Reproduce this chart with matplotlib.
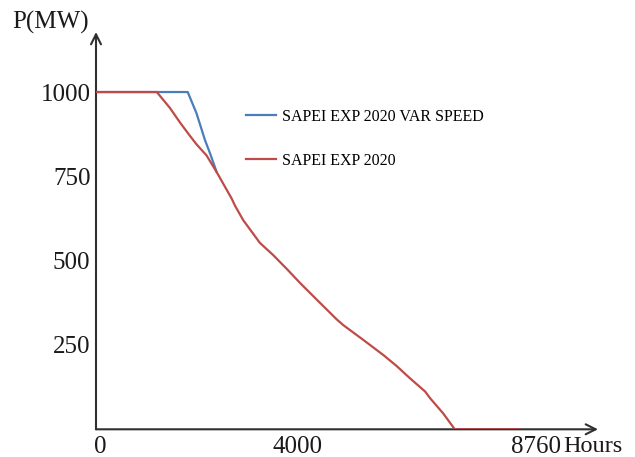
import matplotlib
matplotlib.use("Agg")
import matplotlib.pyplot as plt
from matplotlib.transforms import ScaledTranslation

# ── data ────────────────────────────────────────────────────
hours_exp = [0, 1210, 1470, 1670, 1870, 2000, 2200, 2400, 2700, 2770, 2930,
             3260, 3530, 3800, 4060, 4390, 4790, 4920, 5320, 5720, 5980,
             6250, 6550, 6650, 6910, 7140, 8400]
power_exp = [1000, 1000, 953, 910, 870, 845, 812, 763, 684, 662, 620,
             553, 516, 475, 434, 385, 326, 309, 265, 220, 188,
             151, 112, 92, 47, 0, 0]

hours_var = [0, 1825, 2000, 2170, 2270, 2400]
power_var = [1000, 1000, 937, 857, 818, 763]

x_ticks = [0, 4000, 8760]
y_ticks = [250, 500, 750, 1000]
labels = ["SAPEI EXP 2020 VAR SPEED", "SAPEI EXP 2020"]

BLUE = "#4a7ebb"
RED = "#be4b48"
AXIS = "#303030"

plt.rcParams["font.family"] = ["Liberation Serif", "DejaVu Serif"]

W, H = 635, 457
fig = plt.figure(figsize=(W / 100, H / 100), dpi=100)
x0, y0, x1, y1 = 96, 429.3, 598, 32
ax = fig.add_axes([x0 / W, 1 - y0 / H, (x1 - x0) / W, (y0 - y1) / H])
ax.set_xlim(0, 9990)
ax.set_ylim(0, 1178)

l_var, = ax.plot(hours_var, power_var, color=BLUE, lw=1.6, zorder=3)
l_exp, = ax.plot(hours_exp, power_exp, color=RED, lw=1.6, zorder=4)

for s in ax.spines.values():
    s.set_visible(False)

# axes as arrows
ax.annotate("", xy=(1, 0), xytext=(0, 0), xycoords="axes fraction",
            arrowprops=dict(arrowstyle="->", color=AXIS, lw=1.5,
                            mutation_scale=18, shrinkA=0, shrinkB=0))
ax.annotate("", xy=(0, 1), xytext=(0, 0), xycoords="axes fraction",
            arrowprops=dict(arrowstyle="->", color=AXIS, lw=1.5,
                            mutation_scale=18, shrinkA=0, shrinkB=0))

ax.set_xticks(x_ticks)
ax.set_yticks(y_ticks)
ax.tick_params(length=0, labelsize=18, colors="#1a1a1a")
ax.tick_params(axis="x", pad=5)
ax.tick_params(axis="y", pad=4)
# the "0" sits a little right of the axis in the original
lab0 = ax.xaxis.get_major_ticks()[0].label1
lab0.set_transform(lab0.get_transform()
                   + ScaledTranslation(4 / 100, 0, fig.dpi_scale_trans))

fig.text(12 / W, 1 - 22 / H, "P(MW)", fontsize=18, va="center", ha="left",
         color="#1a1a1a")
fig.text(563 / W, 1 - 446 / H, "Hours", fontsize=17.5, va="center",
         ha="left", color="#1a1a1a")

ax.legend([l_var, l_exp], labels, frameon=False, loc="upper left",
          bbox_to_anchor=((246 - x0) / (x1 - x0), (y0 - 109) / (y0 - y1)),
          borderaxespad=0, borderpad=0, fontsize=11.5, handlelength=1.9,
          handletextpad=0.35, labelspacing=1.75)

fig.savefig("out.png", dpi=100)
